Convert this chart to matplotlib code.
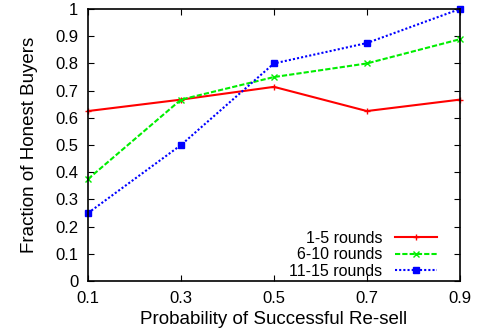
import matplotlib
matplotlib.use("Agg")
import matplotlib.pyplot as plt

plt.rcParams["font.family"] = ["Liberation Sans", "DejaVu Sans"]

prob = [0.1, 0.3, 0.5, 0.7, 0.9]
rounds_1_5 = [0.625, 0.667, 0.714, 0.625, 0.667]
rounds_6_10 = [0.375, 0.667, 0.75, 0.8, 0.889]
rounds_11_15 = [0.25, 0.5, 0.8, 0.875, 1.0]
labels = ["1-5 rounds", "6-10 rounds", "11-15 rounds"]

fig = plt.figure(figsize=(4.82, 3.35), dpi=100)
ax = fig.add_axes([0.1826, 0.161, 0.7714, 0.812])

ax.plot(prob, rounds_1_5, color="#ff0000", linestyle="-", linewidth=1.5,
        marker="+", markersize=4, label=labels[0], clip_on=False)
ax.plot(prob, rounds_6_10, color="#00ee00", linestyle=(0, (2.5, 1)), linewidth=1.5,
        marker="x", markersize=4, label=labels[1], clip_on=False)
ax.plot(prob, rounds_11_15, color="#0000ff", linestyle=(0, (1, 1)), linewidth=1.5,
        marker="s", markersize=4, label=labels[2], clip_on=False)

ax.set_xlim(0.1, 0.9)
ax.set_ylim(0, 1)
ax.set_xticks(prob)
ax.set_xticklabels(["0.1", "0.3", "0.5", "0.7", "0.9"])
ax.set_yticks([i / 10 for i in range(11)])
ax.set_yticklabels(["0", "0.1", "0.2", "0.3", "0.4", "0.5", "0.6", "0.7", "0.8", "0.9", "1"])
ax.tick_params(direction="in", top=True, right=True, labelsize=12, length=4, pad=7)
for s in ax.spines.values():
    s.set_linewidth(1.2)

ax.set_xlabel("Probability of Successful Re-sell", fontsize=13.5, labelpad=4)
ax.set_ylabel("Fraction of Honest Buyers", fontsize=13.5, labelpad=12)

ax.legend(loc="lower right", bbox_to_anchor=(0.955, -0.015), frameon=False,
          markerfirst=False, fontsize=11.5, handlelength=2.6, labelspacing=0.1,
          borderaxespad=0, handletextpad=0.8)

fig.savefig("out.png", dpi=100)
